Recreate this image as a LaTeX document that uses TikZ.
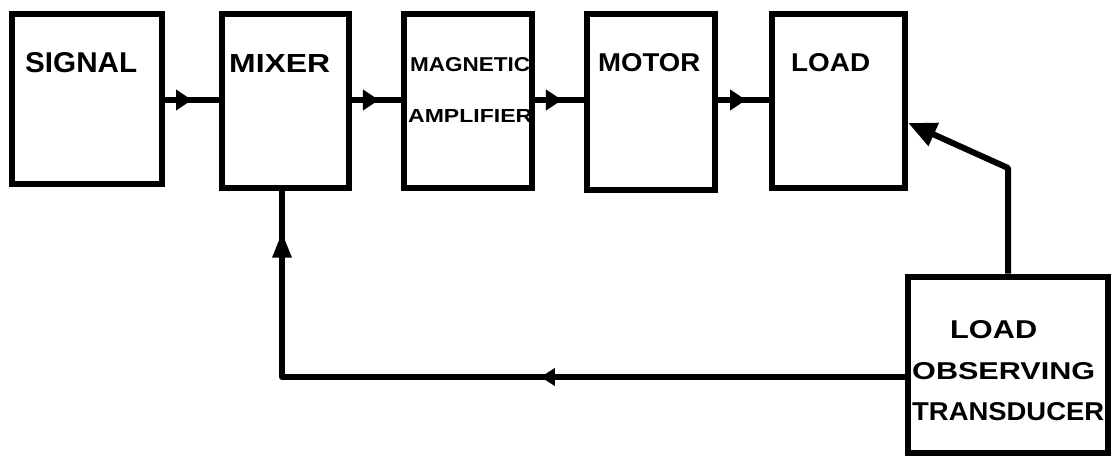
\documentclass[tikz,border=0pt]{standalone}
\usepackage{fontspec}
\setmainfont{Liberation Sans}
\usepackage{graphicx}
\usetikzlibrary{arrows.meta,decorations.markings}
\newcommand\lbl[3]{\resizebox{#1pt}{#2pt}{\bfseries #3}}
\tikzset{
  blk/.style={draw, line width=6.5pt, rectangle, inner sep=0pt},
  wire/.style={line width=6pt, line join=round},
  txt/.style={anchor=west, inner sep=0pt},
  midarrow/.style={postaction={decorate}, decoration={markings,
     mark=at position #1 with {\arrow{Triangle[length=16pt,width=20pt]}}}}
}
\begin{document}
\begin{tikzpicture}[x=1pt,y=-1pt]
\useasboundingbox (0,0) rectangle (1111,462);
% blocks
\node[blk, minimum width=150pt, minimum height=170pt] (signal) at (87,99) {};
\node[blk, minimum width=127pt, minimum height=174pt] (mixer) at (285.5,101) {};
\node[blk, minimum width=128pt, minimum height=174pt] (magamp) at (468,101) {};
\node[blk, minimum width=128pt, minimum height=176pt] (motor) at (651,102) {};
\node[blk, minimum width=133pt, minimum height=174pt] (load) at (838.5,101) {};
\node[blk, minimum width=200pt, minimum height=176pt] (trans) at (1008,365) {};
% labels
\node[txt] (tsignal) at (25,63) {\lbl{112}{20}{SIGNAL}};
\node[txt] (tmixer) at (229,64) {\lbl{101}{18}{MIXER}};
\node[txt] (tmag1) at (410,65) {\lbl{120}{14}{MAGNETIC}};
\node[txt] (tmag2) at (408,116) {\lbl{124}{13}{AMPLIFIER}};
\node[txt] (tmotor) at (598,63) {\lbl{102}{18}{MOTOR}};
\node[txt] (tload) at (791,63) {\lbl{79}{18}{LOAD}};
\node[txt] (tt1) at (950,330) {\lbl{87}{18}{LOAD}};
\node[txt] (tt2) at (912,371) {\lbl{183}{17}{OBSERVING}};
\node[txt] (tt3) at (912,412) {\lbl{192}{18}{TRANSDUCER}};
% forward path
\coordinate (y0) at (0,100);
\draw[wire, midarrow=0.5] (signal.east |- y0) -- (mixer.west |- y0);
\draw[wire, midarrow=0.55] (mixer.east |- y0) -- (magamp.west |- y0);
\draw[wire, midarrow=0.55] (magamp.east |- y0) -- (motor.west |- y0);
\draw[wire, midarrow=0.55] (motor.east |- y0) -- (load.west |- y0);
% feedback to mixer
\coordinate (c1) at (282,377);
\draw[wire, postaction={decorate}, decoration={markings,
   mark=at position 364pt with {\arrow{Triangle[length=14pt,width=17pt]}},
   mark=at position 768pt with {\arrow{Triangle[length=26pt,width=18pt]}}}]
  (trans.west |- c1) -- (c1) -- (mixer.south -| c1);
% feedback to load
\coordinate (c2) at (1008,168);
\coordinate (c3) at (0,123);
\draw[wire, -{Triangle[length=28pt,width=24pt]}] (trans.north) -- (c2) -- (load.east |- c3);
\end{tikzpicture}
\end{document}
